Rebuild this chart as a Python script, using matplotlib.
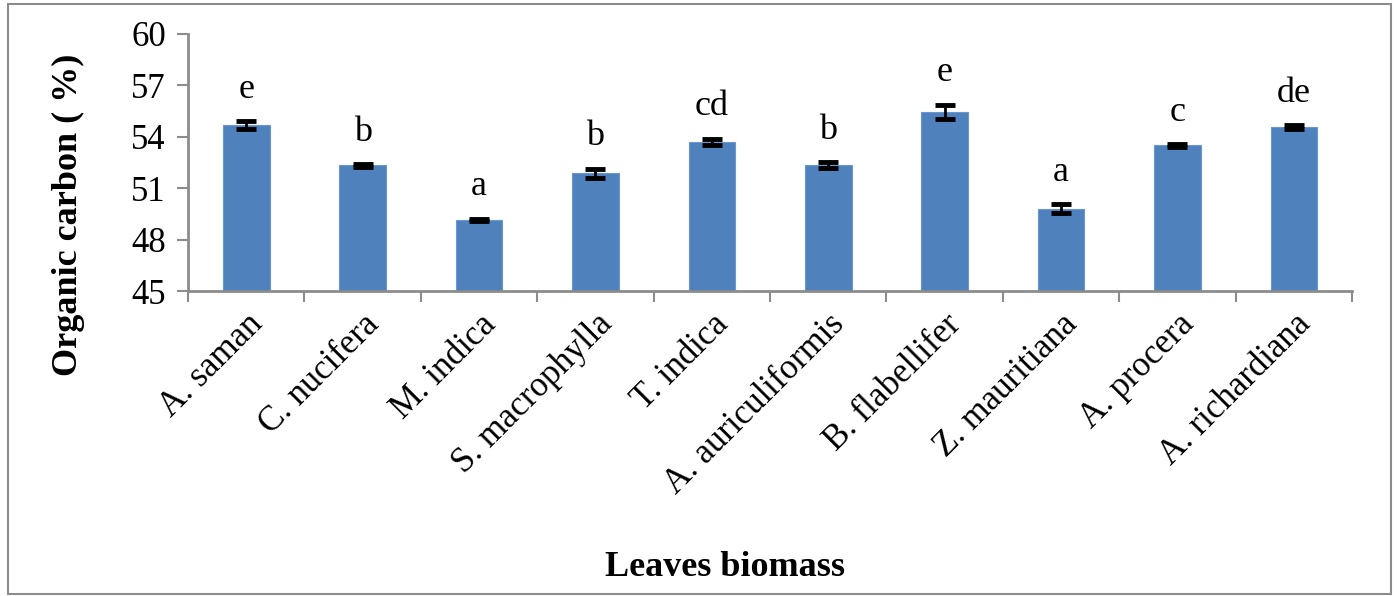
import numpy as np
import matplotlib.pyplot as plt
from matplotlib.patches import Rectangle

species = ['A. saman', 'C. nucifera', 'M. indica', 'S. macrophylla', 'T. indica',
           'A. auriculiformis', 'B. flabellifer', 'Z. mauritiana', 'A. procera',
           'A. richardiana']
carbon = [54.68, 52.34, 49.15, 51.86, 53.71, 52.34, 55.46, 49.81, 53.51, 54.58]
err = [0.22, 0.08, 0.08, 0.28, 0.18, 0.18, 0.42, 0.28, 0.08, 0.1]
letters = ['e', 'b', 'a', 'b', 'cd', 'b', 'e', 'a', 'c', 'de']

plt.rcParams['font.family'] = ['Liberation Serif', 'DejaVu Serif']

fig = plt.figure(figsize=(13.97, 5.96), dpi=100)
ax = fig.add_axes([0.1346, 0.5117, 0.8332, 0.4313])

x = np.arange(len(species))
ax.bar(x, carbon, width=0.4, bottom=0, color='#4F81BD', edgecolor='#6C96CF',
       linewidth=0.8, zorder=2)
ax.errorbar(x, carbon, yerr=err, fmt='none', ecolor='black', elinewidth=2,
            capsize=7, capthick=3.5, zorder=3)

for xi, v, e, lab in zip(x, carbon, err, letters):
    ax.annotate(lab, (xi, v + e), xytext=(0, 11), textcoords='offset points',
                ha='center', va='bottom', fontsize=26)

ax.set_ylim(45, 60)
ax.set_xlim(-0.5, len(species) - 0.5)
ax.set_yticks(np.arange(45, 61, 3))
ax.set_xticks(x)
ax.set_xticklabels(species, rotation=45, ha='right', rotation_mode='anchor',
                   fontsize=25)
ax.tick_params(axis='x', length=0, pad=12)
ax.set_xticks(np.arange(-0.5, len(species), 1), minor=True)
ax.tick_params(axis='x', which='minor', length=8, width=1.5, color='#8C8C8C')
ax.tick_params(axis='y', labelsize=25, length=8, width=1.5, color='#8C8C8C',
               direction='out', pad=8)

for side in ['top', 'right']:
    ax.spines[side].set_visible(False)
for side in ['left', 'bottom']:
    ax.spines[side].set_color('#8C8C8C')
    ax.spines[side].set_linewidth(2)

ax.set_ylabel('Organic carbon ( %)', fontsize=26, fontweight='bold')
ax.yaxis.set_label_coords(-0.0885, 0.296)
fig.text(0.519, 0.048, 'Leaves biomass', ha='center', va='center',
         fontsize=26, fontweight='bold')

fig.patches.append(Rectangle((0.006, 0.004), 0.99, 0.99, transform=fig.transFigure,
                             fill=False, edgecolor='#8C8C8C', linewidth=1.5))

fig.savefig('out.png', dpi=100)
